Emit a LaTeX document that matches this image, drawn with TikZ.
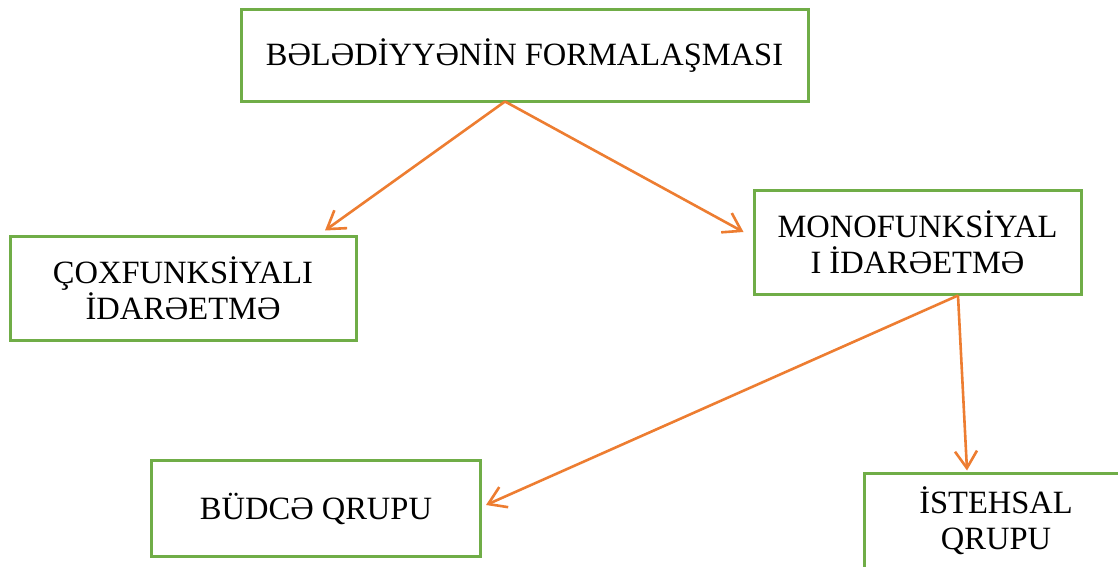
\documentclass[tikz,border=0pt]{standalone}
\usepackage{fontspec}
\setmainfont{Liberation Serif}
\usetikzlibrary{arrows.meta}
\definecolor{boxgreen}{HTML}{70AD47}
\definecolor{arrorange}{HTML}{ED7D31}
\tikzset{
  box/.style={draw=boxgreen, line width=3pt, fill=white, inner sep=0pt, align=center,
    font=\fontsize{32.5}{36}\selectfont},
  conn/.style={draw=arrorange, line width=2.6pt,
    -{Straight Barb[length=17pt,width=22pt]}}
}
\begin{document}
\begin{tikzpicture}[x=1pt,y=-1pt]
\useasboundingbox (0,0) rectangle (1118,567);
\node[box, minimum width=567pt, minimum height=92pt] (top) at (524.5,56) {BƏLƏDİYYƏNİN FORMALAŞMASI};
\node[box, minimum width=346pt, minimum height=104pt] (left) at (183,288) {ÇOXFUNKSİYALI\\İDARƏETMƏ};
\node[box, minimum width=327pt, minimum height=104pt] (mono) at (917.5,242) {MONOFUNKSİYAL\\I İDARƏETMƏ};
\node[box, minimum width=329pt, minimum height=96pt] (budce) at (316,508.5) {BÜDCƏ QRUPU};
\node[box, minimum width=264pt, minimum height=96pt] (ist) at (996,521) {İSTEHSAL\\QRUPU};
\draw[conn] ([xshift=-19.5pt,yshift=2pt]top.south) -- ([xshift=142pt,yshift=4pt]left.north);
\draw[conn] ([xshift=-19.5pt,yshift=2pt]top.south) -- ([xshift=-9pt,yshift=10pt]mono.west);
\draw[conn] ([xshift=40.5pt]mono.south) -- ([xshift=4pt,yshift=3.5pt]budce.east);
\draw[conn] ([xshift=40.5pt]mono.south) -- ([xshift=-29pt,yshift=1pt]ist.north);
\end{tikzpicture}
\end{document}
